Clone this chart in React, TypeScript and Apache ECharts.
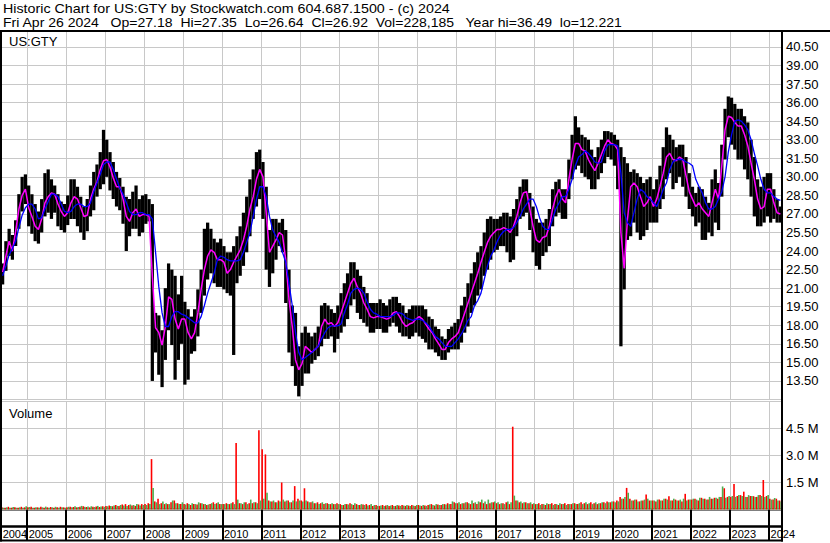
import React, { useEffect, useRef } from 'react';
import * as echarts from 'echarts';

// ---- data (monthly, May 2004 .. Apr 2024) ----
const START_YEAR = 2004;
const START_MONTH = 5;

const hi = [
  23.0, 24.8, 25.8, 25.3, 26.5, 28.6, 30.0, 30.2,
  29.3, 28.6, 27.8, 27.2, 28.2, 30.3, 30.6, 29.8, 29.3, 28.6, 28.0, 27.8,
  28.5, 29.8, 29.8, 29.2, 28.4, 27.6, 28.2, 29.3, 30.4, 31.0, 32.0, 33.8,
  33.0, 32.0, 31.2, 30.4, 29.9, 29.2, 28.4, 28.2, 28.8, 29.3, 28.2, 28.5,
  28.6, 28.2, 27.8, 19.0, 18.8, 17.6, 21.0, 23.0, 22.5, 22.0, 20.5, 22.0,
  19.9, 19.3, 18.7, 19.3, 20.9, 22.5, 25.8, 26.3, 25.8, 25.0, 24.7, 25.0,
  24.4, 23.9, 23.9, 24.4, 25.2, 26.0, 27.1, 28.4, 29.8, 30.6, 32.0, 32.2,
  31.2, 29.2, 25.7, 26.6, 26.6, 26.3, 26.6, 25.7, 22.5, 19.6, 19.0, 16.3,
  17.4, 17.9, 17.4, 17.1, 17.4, 17.9, 19.6, 19.8, 19.6, 19.3, 19.0, 19.6,
  20.6, 21.4, 22.2, 23.1, 23.1, 22.5, 22.0, 21.1, 20.6, 19.8, 19.8, 19.8,
  20.1, 19.8, 19.6, 20.1, 20.3, 20.3, 19.8, 19.6, 19.0, 19.3, 19.6, 19.6,
  19.6, 19.6, 19.3, 18.7, 18.5, 17.9, 17.7, 17.1, 16.9, 17.7, 17.9, 18.2,
  18.5, 19.6, 20.3, 21.4, 22.2, 23.1, 23.9, 24.4, 25.5, 26.6, 26.8, 26.6,
  26.6, 26.8, 27.1, 27.1, 26.8, 27.4, 28.2, 29.2, 29.8, 29.8, 28.7, 27.6,
  26.6, 26.3, 26.3, 26.6, 27.4, 29.0, 29.6, 29.8, 29.0, 29.0, 31.4, 33.4,
  34.9, 34.0, 33.4, 33.2, 33.0, 32.2, 31.6, 32.4, 33.0, 33.7, 33.7, 33.6,
  33.4, 33.0, 32.4, 31.6, 31.1, 30.4, 30.6, 30.3, 30.0, 29.5, 29.8, 30.0,
  29.0, 29.8, 30.9, 32.4, 34.0, 33.4, 33.0, 32.4, 32.6, 32.6, 31.6, 30.3,
  29.2, 28.7, 29.2, 29.0, 28.4, 27.9, 29.8, 30.6, 29.5, 32.6, 35.5, 36.5,
  36.4, 35.9, 35.5, 35.5, 34.9, 34.4, 33.0, 31.6, 29.8, 29.2, 30.0, 30.3,
  30.3, 29.0, 28.2, 27.6,
];

const lo = [
  21.3, 22.4, 23.6, 23.3, 24.4, 25.8, 27.2, 27.8,
  26.0, 25.4, 24.8, 24.6, 25.5, 26.8, 27.1, 26.6, 27.1, 26.0, 25.7, 25.5,
  26.1, 26.6, 26.6, 26.0, 25.5, 24.9, 25.6, 26.8, 27.3, 28.4, 29.0, 29.4,
  30.0, 28.9, 28.2, 27.6, 27.3, 26.2, 24.0, 25.2, 25.8, 25.8, 25.2, 25.5,
  26.2, 26.4, 13.5, 15.8, 14.0, 13.0, 15.2, 17.6, 16.4, 13.6, 15.2, 16.5,
  13.2, 13.6, 15.7, 15.9, 17.1, 19.0, 20.4, 21.7, 22.2, 21.4, 21.1, 21.1,
  20.9, 20.6, 20.4, 15.6, 21.4, 22.0, 22.8, 23.9, 25.2, 26.6, 27.6, 28.2,
  26.6, 22.5, 21.1, 22.2, 23.3, 24.4, 23.9, 19.8, 15.8, 14.7, 13.1, 12.25,
  13.1, 14.1, 14.1, 14.9, 15.2, 15.5, 16.3, 16.9, 16.9, 17.1, 15.8, 16.9,
  17.4, 17.9, 18.5, 19.6, 20.1, 19.0, 18.5, 18.2, 17.9, 17.4, 17.4, 17.7,
  17.7, 17.4, 17.4, 17.9, 18.2, 17.9, 17.4, 17.1, 17.1, 16.9, 17.1, 17.4,
  17.1, 16.9, 16.6, 16.05, 16.05, 15.8, 15.5, 15.2, 15.2, 15.8, 16.05, 16.05,
  16.05, 16.6, 17.4, 17.9, 19.0, 19.6, 20.4, 20.9, 22.0, 22.5, 23.3, 23.9,
  24.1, 24.4, 24.4, 23.9, 23.1, 23.3, 25.2, 26.6, 26.8, 27.1, 25.7, 23.9,
  22.8, 22.5, 23.6, 23.9, 24.4, 26.0, 26.8, 27.1, 26.6, 26.6, 28.2, 29.8,
  30.6, 30.9, 30.3, 30.0, 29.8, 29.0, 29.0, 29.8, 30.3, 31.1, 31.6, 31.4,
  30.9, 29.0, 16.3, 20.9, 24.9, 25.2, 26.3, 25.5, 24.9, 25.2, 25.7, 26.3,
  26.3, 26.3, 27.4, 28.2, 29.8, 30.3, 29.0, 29.5, 30.0, 29.2, 28.4, 27.4,
  26.8, 26.0, 26.3, 24.9, 24.9, 25.5, 25.2, 26.3, 25.7, 28.4, 31.4, 33.2,
  32.6, 32.2, 31.4, 31.4, 30.6, 29.8, 28.4, 26.8, 26.0, 26.0, 26.3, 26.8,
  26.3, 26.6, 26.3, 26.3,
];

const ma20 = [
  22.3, 23.6, 24.8, 24.0, 25.6, 27.4, 28.5, 29.0,
  27.5, 26.8, 26.0, 25.75, 26.6, 27.9, 28.4, 28.7, 28.6, 27.8, 27.2, 26.8,
  27.1, 27.9, 28.4, 28.2, 27.5, 26.8, 26.9, 28.2, 29.0, 29.6, 30.6, 31.3,
  31.4, 30.8, 29.9, 29.2, 29.2, 28.2, 26.8, 26.4, 27.1, 27.4, 26.8, 26.95,
  26.95, 26.8, 22.0, 17.8, 17.4, 16.4, 17.9, 20.3, 20.1, 18.5, 17.7, 18.5,
  18.5, 17.4, 16.9, 17.4, 19.0, 20.9, 22.5, 23.6, 24.1, 23.9, 23.3, 23.3,
  23.1, 22.2, 22.5, 23.1, 23.6, 24.1, 24.9, 26.0, 27.4, 28.4, 29.8, 30.6,
  30.0, 27.1, 23.9, 24.4, 24.9, 25.5, 25.3, 23.3, 20.1, 17.9, 15.2, 14.4,
  14.9, 16.3, 16.05, 15.8, 16.05, 16.3, 17.9, 18.5, 18.1, 18.2, 17.9, 18.2,
  19.0, 19.8, 20.6, 21.4, 21.8, 21.1, 20.6, 19.8, 19.3, 18.7, 18.6, 18.7,
  18.7, 18.6, 18.5, 18.6, 19.0, 19.1, 18.7, 18.2, 17.9, 18.1, 18.2, 18.5,
  18.7, 18.5, 18.1, 17.7, 17.4, 16.9, 16.5, 16.05, 16.05, 16.6, 16.9, 17.1,
  17.4, 18.2, 19.0, 19.8, 20.6, 21.4, 22.2, 23.1, 23.9, 24.7, 25.2, 25.5,
  25.75, 25.75, 25.9, 25.75, 25.5, 26.0, 26.8, 27.9, 28.7, 28.8, 27.4, 26.0,
  24.9, 24.7, 25.1, 25.2, 26.0, 27.4, 28.4, 29.0, 28.2, 27.9, 29.8, 31.4,
  32.7, 32.7, 32.2, 32.1, 31.4, 30.9, 30.5, 31.1, 31.8, 32.5, 33.0, 32.7,
  32.6, 32.2, 25.5, 22.6, 26.5, 29.2, 29.5, 29.2, 28.4, 27.6, 27.9, 28.4,
  27.6, 28.2, 29.2, 30.3, 31.6, 31.9, 31.4, 31.3, 31.6, 31.4, 30.1, 28.8,
  28.2, 27.6, 27.9, 27.4, 27.1, 26.8, 27.9, 29.0, 28.2, 30.9, 33.8, 34.9,
  34.8, 34.4, 34.1, 34.1, 33.4, 32.5, 31.1, 29.8, 28.2, 27.4, 27.6, 29.0,
  29.0, 27.9, 27.1, 27.0,
];

const ma50 = [
  22.0, 22.8, 23.7, 24.2, 24.8, 25.9, 26.9, 27.5,
  27.8, 27.8, 27.4, 26.6, 26.7, 27.4, 28.0, 28.6, 28.6, 28.4, 27.8, 27.2,
  27.1, 27.2, 27.6, 27.8, 27.8, 27.6, 27.6, 27.9, 28.8, 29.5, 30.2, 31.0,
  31.2, 31.2, 30.6, 29.8, 29.1, 28.6, 27.9, 27.2, 26.95, 26.95, 27.1, 27.1,
  26.95, 26.95, 26.6, 23.9, 21.1, 19.0, 17.9, 17.9, 18.7, 19.1, 19.1, 18.9,
  18.8, 18.6, 18.4, 18.2, 18.2, 18.7, 19.6, 20.6, 21.4, 22.2, 23.3, 23.6,
  23.5, 23.3, 23.2, 23.2, 23.2, 23.3, 23.9, 24.7, 25.5, 26.8, 28.2, 29.2,
  29.2, 28.4, 26.8, 25.7, 25.2, 24.7, 23.9, 23.1, 21.4, 19.6, 17.4, 15.8,
  15.2, 15.4, 15.6, 15.8, 16.05, 16.3, 16.9, 17.4, 17.8, 17.95, 17.95, 17.95,
  18.1, 19.0, 19.7, 20.6, 20.9, 21.0, 20.9, 20.6, 19.9, 19.3, 19.0, 18.9,
  18.7, 18.7, 18.7, 18.7, 18.8, 19.0, 19.0, 18.9, 18.6, 18.5, 18.4, 18.5,
  18.5, 18.4, 18.2, 17.95, 17.5, 17.1, 16.9, 16.6, 16.3, 16.3, 16.3, 16.6,
  16.9, 17.3, 17.8, 18.4, 18.7, 19.6, 20.0, 20.6, 21.7, 22.8, 23.6, 24.1,
  24.8, 25.3, 25.6, 25.75, 25.75, 25.9, 26.3, 26.8, 27.4, 27.8, 28.2, 28.2,
  27.6, 26.7, 26.0, 25.75, 25.75, 26.6, 27.4, 27.9, 28.4, 28.4, 29.0, 29.8,
  30.9, 31.6, 31.8, 32.1, 31.9, 31.6, 31.2, 31.1, 31.2, 32.1, 32.6, 32.6,
  32.6, 32.5, 30.3, 27.1, 26.3, 26.0, 27.1, 28.2, 29.0, 28.8, 28.4, 28.2,
  27.9, 27.6, 28.2, 29.0, 29.5, 30.6, 31.2, 31.4, 31.4, 31.4, 31.2, 31.1,
  30.9, 29.8, 29.2, 28.7, 27.9, 27.4, 27.4, 27.6, 28.2, 28.8, 30.0, 32.0,
  33.4, 34.5, 34.6, 34.5, 34.2, 33.8, 33.0, 31.9, 30.9, 29.8, 29.0, 28.7,
  28.7, 28.4, 28.2, 28.1,
];

// volume in millions of shares: down-day (red) and up-day (green) peaks per month
const volDown = [
  0.12, 0.1, 0.15, 0.1, 0.12, 0.1, 0.15, 0.12,
  0.12, 0.15, 0.1, 0.12, 0.15, 0.1, 0.12, 0.14, 0.1, 0.12, 0.15, 0.12,
  0.12, 0.15, 0.14, 0.12, 0.15, 0.18, 0.14, 0.12, 0.15, 0.16, 0.14, 0.18,
  0.2, 0.22, 0.18, 0.25, 0.2, 0.28, 0.3, 0.25, 0.22, 0.2, 0.28, 0.3,
  0.3, 0.35, 2.8, 0.45, 0.6, 0.35, 0.3, 0.3, 0.4, 0.5, 0.35, 0.3,
  0.3, 0.35, 0.25, 0.3, 0.28, 0.35, 0.3, 0.25, 0.3, 0.4, 0.35, 0.3,
  0.3, 0.35, 0.3, 0.4, 3.7, 0.35, 0.3, 0.4, 0.35, 0.35, 0.4, 4.4,
  3.35, 3.06, 0.5, 0.45, 0.4, 0.5, 1.5, 0.45, 0.5, 0.4, 1.3, 0.6,
  0.5, 1.18, 0.45, 0.4, 0.35, 0.4, 0.35, 0.3, 0.35, 0.3, 0.3, 0.35,
  0.3, 0.25, 0.3, 0.35, 0.25, 0.3, 0.25, 0.28, 0.3, 0.25, 0.2, 0.25,
  0.2, 0.25, 0.22, 0.2, 0.25, 0.2, 0.22, 0.25, 0.2, 0.22, 0.25, 0.2,
  0.25, 0.2, 0.22, 0.25, 0.3, 0.22, 0.28, 0.25, 0.3, 0.35, 0.3, 0.4,
  0.35, 0.3, 0.35, 0.4, 0.3, 0.35, 0.3, 0.4, 0.35, 0.3, 0.35, 0.4,
  0.35, 0.3, 0.35, 0.4, 0.3, 4.6, 0.5, 0.4, 0.35, 0.4, 0.35, 0.3,
  0.3, 0.35, 0.3, 0.25, 0.3, 0.35, 0.3, 0.25, 0.3, 0.35, 0.3, 0.3,
  0.35, 0.3, 0.4, 0.35, 0.3, 0.4, 0.35, 0.3, 0.35, 0.4, 0.45, 0.4,
  0.45, 0.5, 0.7, 0.6, 1.2, 0.6, 0.5, 0.55, 0.45, 0.5, 0.83, 0.5,
  0.5, 0.45, 0.55, 0.5, 0.6, 0.74, 0.5, 0.55, 0.5, 0.45, 0.87, 0.55,
  0.55, 0.6, 0.5, 0.65, 0.6, 0.55, 0.6, 0.65, 0.6, 0.7, 1.18, 0.7,
  0.7, 1.41, 0.75, 0.8, 0.99, 0.7, 0.75, 0.74, 0.7, 0.8, 1.64, 0.75,
  0.6, 0.55, 0.6, 0.5,
];

const volUp = [
  0.1, 0.12, 0.1, 0.14, 0.1, 0.12, 0.1, 0.18,
  0.14, 0.1, 0.12, 0.1, 0.12, 0.16, 0.1, 0.12, 0.15, 0.1, 0.12, 0.1,
  0.15, 0.12, 0.18, 0.14, 0.2, 0.15, 0.16, 0.18, 0.14, 0.2, 0.16, 0.15,
  0.18, 0.2, 0.22, 0.2, 0.25, 0.22, 0.2, 0.28, 0.25, 0.3, 0.22, 0.25,
  0.25, 0.3, 1.2, 0.4, 0.3, 0.45, 0.35, 0.3, 0.5, 0.35, 0.3, 0.4,
  0.28, 0.3, 0.35, 0.3, 0.4, 0.35, 0.3, 0.28, 0.35, 0.3, 0.4, 0.3,
  0.3, 0.3, 0.35, 0.3, 0.55, 0.35, 0.4, 0.3, 0.55, 0.4, 0.35, 0.5,
  0.6, 0.93, 0.45, 0.5, 0.4, 0.45, 0.55, 0.5, 0.4, 0.5, 0.45, 0.5,
  0.45, 0.5, 0.4, 0.45, 0.35, 0.3, 0.4, 0.35, 0.3, 0.35, 0.3, 0.3,
  0.25, 0.3, 0.28, 0.3, 0.35, 0.25, 0.3, 0.25, 0.22, 0.3, 0.25, 0.2,
  0.22, 0.2, 0.25, 0.22, 0.2, 0.25, 0.2, 0.22, 0.25, 0.2, 0.22, 0.25,
  0.22, 0.25, 0.2, 0.28, 0.25, 0.3, 0.25, 0.3, 0.28, 0.3, 0.45, 0.35,
  0.4, 0.35, 0.4, 0.35, 0.5, 0.4, 0.45, 0.55, 0.45, 0.55, 0.4, 0.45,
  0.4, 0.35, 0.3, 0.45, 0.4, 0.77, 0.5, 0.45, 0.4, 0.35, 0.4, 0.35,
  0.3, 0.25, 0.3, 0.35, 0.3, 0.25, 0.3, 0.35, 0.3, 0.25, 0.3, 0.35,
  0.3, 0.35, 0.3, 0.4, 0.35, 0.3, 0.4, 0.35, 0.4, 0.35, 0.4, 0.45,
  0.4, 0.45, 0.6, 0.7, 0.93, 0.5, 0.55, 0.45, 0.5, 0.55, 0.6, 0.5,
  0.5, 0.55, 0.5, 0.6, 0.55, 0.5, 0.6, 0.5, 0.55, 0.6, 0.5, 0.55,
  0.6, 0.55, 0.65, 0.6, 0.55, 0.7, 0.6, 0.65, 0.7, 1.28, 0.65, 0.75,
  0.75, 0.7, 0.8, 0.75, 0.7, 0.8, 0.75, 0.7, 0.8, 0.75, 0.7, 0.8,
  0.55, 0.64, 0.5, 0.45,
];

const TITLE_1 = 'Historic Chart for US:GTY by Stockwatch.com 604.687.1500 - (c) 2024';
const TITLE_2 = 'Fri Apr 26 2024   Op=27.18  Hi=27.35  Lo=26.64  Cl=26.92  Vol=228,185   Year hi=36.49  lo=12.221';
const SYMBOL = 'US:GTY';
const VOL_LABEL = 'Volume';

const categories: string[] = hi.map((_, i) => {
  const m = START_MONTH - 1 + i;
  const y = START_YEAR + Math.floor(m / 12);
  const mm = (m % 12) + 1;
  return `${y}-${mm < 10 ? '0' + mm : mm}`;
});
const isJan = (i: number) => !!categories[i] && categories[i].endsWith('-01');

const FONT = 'Arial, "Liberation Sans", sans-serif';

export default function App() {
  const ref = useRef<HTMLDivElement>(null);
  useEffect(() => {
    if (!ref.current) return;
    const chart = echarts.init(ref.current, null, { renderer: 'svg' });
    const grid = (top: number, height: number, bw: number) => ({
      left: 1, right: 48, top, height, show: true, borderColor: '#000', borderWidth: bw,
      backgroundColor: 'transparent', containLabel: false, outerBoundsMode: 'none',
    });
    const xAx = (gridIndex: number, lineColor: string, lw: number, extra: any = {}) => ({
      type: 'category', gridIndex, data: categories, boundaryGap: true,
      axisLine: { show: false }, axisTick: { show: false }, axisLabel: { show: false },
      splitLine: { show: true, interval: (i: number) => isJan(i), lineStyle: { color: lineColor, width: lw } },
      ...extra,
    });
    const option: any = {
      animation: false,
      backgroundColor: '#fff',
      grid: [grid(31, 368.5, 1), grid(401.5, 108, 1), grid(509.5, 17, 2), grid(526.5, 14, 2)],
      xAxis: [
        xAx(0, '#c8c8c8', 1),
        xAx(1, '#c8c8c8', 1),
        xAx(2, '#000', 2),
        xAx(3, '#000', 2, {
          axisLabel: {
            show: true, inside: true, margin: 1, align: 'left', verticalAlign: 'bottom',
            showMinLabel: true, showMaxLabel: true, hideOverlap: false,
            interval: (i: number) => i === 0 || isJan(i),
            formatter: (v: string) => v.slice(0, 4),
            fontSize: 11, fontFamily: FONT, color: '#000',
          },
        }),
      ],
      yAxis: [
        {
          type: 'value', gridIndex: 0, position: 'right', min: 12, max: 41.79, interval: 1.5,
          axisLine: { show: false }, axisTick: { show: false },
          axisLabel: {
            margin: 4, color: '#000', fontSize: 13, fontFamily: FONT,
            formatter: (v: number) => (v > 12.5 && v < 41) ? v.toFixed(2) : '',
          },
          splitLine: { show: true, lineStyle: { color: '#c8c8c8', width: 1 } },
        },
        {
          type: 'value', gridIndex: 1, position: 'right', min: 0, max: 6, interval: 1.5,
          axisLine: { show: false }, axisTick: { show: false },
          axisLabel: {
            margin: 4, color: '#000', fontSize: 13, fontFamily: FONT,
            formatter: (v: number) => (v > 0.1 && v < 5.9) ? v.toFixed(1) + ' M' : '',
          },
          splitLine: { show: true, lineStyle: { color: '#c8c8c8', width: 1 } },
        },
        { type: 'value', gridIndex: 2, show: false, min: 0, max: 1, splitLine: { show: false } },
        { type: 'value', gridIndex: 3, show: false, min: 0, max: 1, splitLine: { show: false } },
      ],
      series: [
        {
          type: 'bar', xAxisIndex: 0, yAxisIndex: 0, stack: 'hl', data: lo, barCategoryGap: '0%',
          itemStyle: { color: 'rgba(0,0,0,0)' }, silent: true,
        },
        {
          type: 'bar', xAxisIndex: 0, yAxisIndex: 0, stack: 'hl', barCategoryGap: '0%',
          data: hi.map((h, i) => +(h - lo[i]).toFixed(2)), itemStyle: { color: '#000' },
        },
        {
          type: 'line', xAxisIndex: 0, yAxisIndex: 0, data: ma20, symbol: 'none', z: 3,
          lineStyle: { color: '#ff00ff', width: 1.5 },
        },
        {
          type: 'line', xAxisIndex: 0, yAxisIndex: 0, data: ma50, symbol: 'none', z: 4,
          lineStyle: { color: '#0000ff', width: 1.3 },
        },
        {
          type: 'bar', xAxisIndex: 1, yAxisIndex: 1, data: volDown, barWidth: 1.6, barGap: '0%',
          itemStyle: { color: '#ff0000' },
        },
        {
          type: 'bar', xAxisIndex: 1, yAxisIndex: 1, data: volUp, barWidth: 1.6, barGap: '0%',
          itemStyle: { color: '#4caf50' },
        },
      ],
      graphic: [
        { type: 'text', x: 3, y: 8.5, scaleX: 1.19, silent: true, style: { text: TITLE_1, fontSize: 12, fontFamily: FONT, fill: '#000', verticalAlign: 'middle' } },
        { type: 'text', x: 3, y: 22.5, scaleX: 1.17, silent: true, style: { text: TITLE_2, fontSize: 12, fontFamily: FONT, fill: '#000', verticalAlign: 'middle' } },
        { type: 'text', x: 9, y: 41, silent: true, style: { text: SYMBOL, fontSize: 13, fontFamily: FONT, fill: '#000', verticalAlign: 'middle' } },
        { type: 'text', x: 9, y: 413, silent: true, style: { text: VOL_LABEL, fontSize: 13, fontFamily: FONT, fill: '#000', verticalAlign: 'middle' } },
        { type: 'line', silent: true, z: 100, shape: { x1: 0, y1: 31, x2: 830, y2: 31 }, style: { stroke: '#000', lineWidth: 2 } },
        { type: 'line', silent: true, z: 100, shape: { x1: 1, y1: 30, x2: 1, y2: 541.5 }, style: { stroke: '#000', lineWidth: 2 } },
        { type: 'line', silent: true, z: 100, shape: { x1: 782, y1: 30, x2: 782, y2: 541.5 }, style: { stroke: '#000', lineWidth: 2 } },
      ],
    };
    chart.setOption(option);
    return () => chart.dispose();
  }, []);
  return (
    <div
      ref={ref}
      style={{ position: 'fixed', left: 0, top: 0, width: 830, height: 543, background: '#fff' }}
    />
  );
}
